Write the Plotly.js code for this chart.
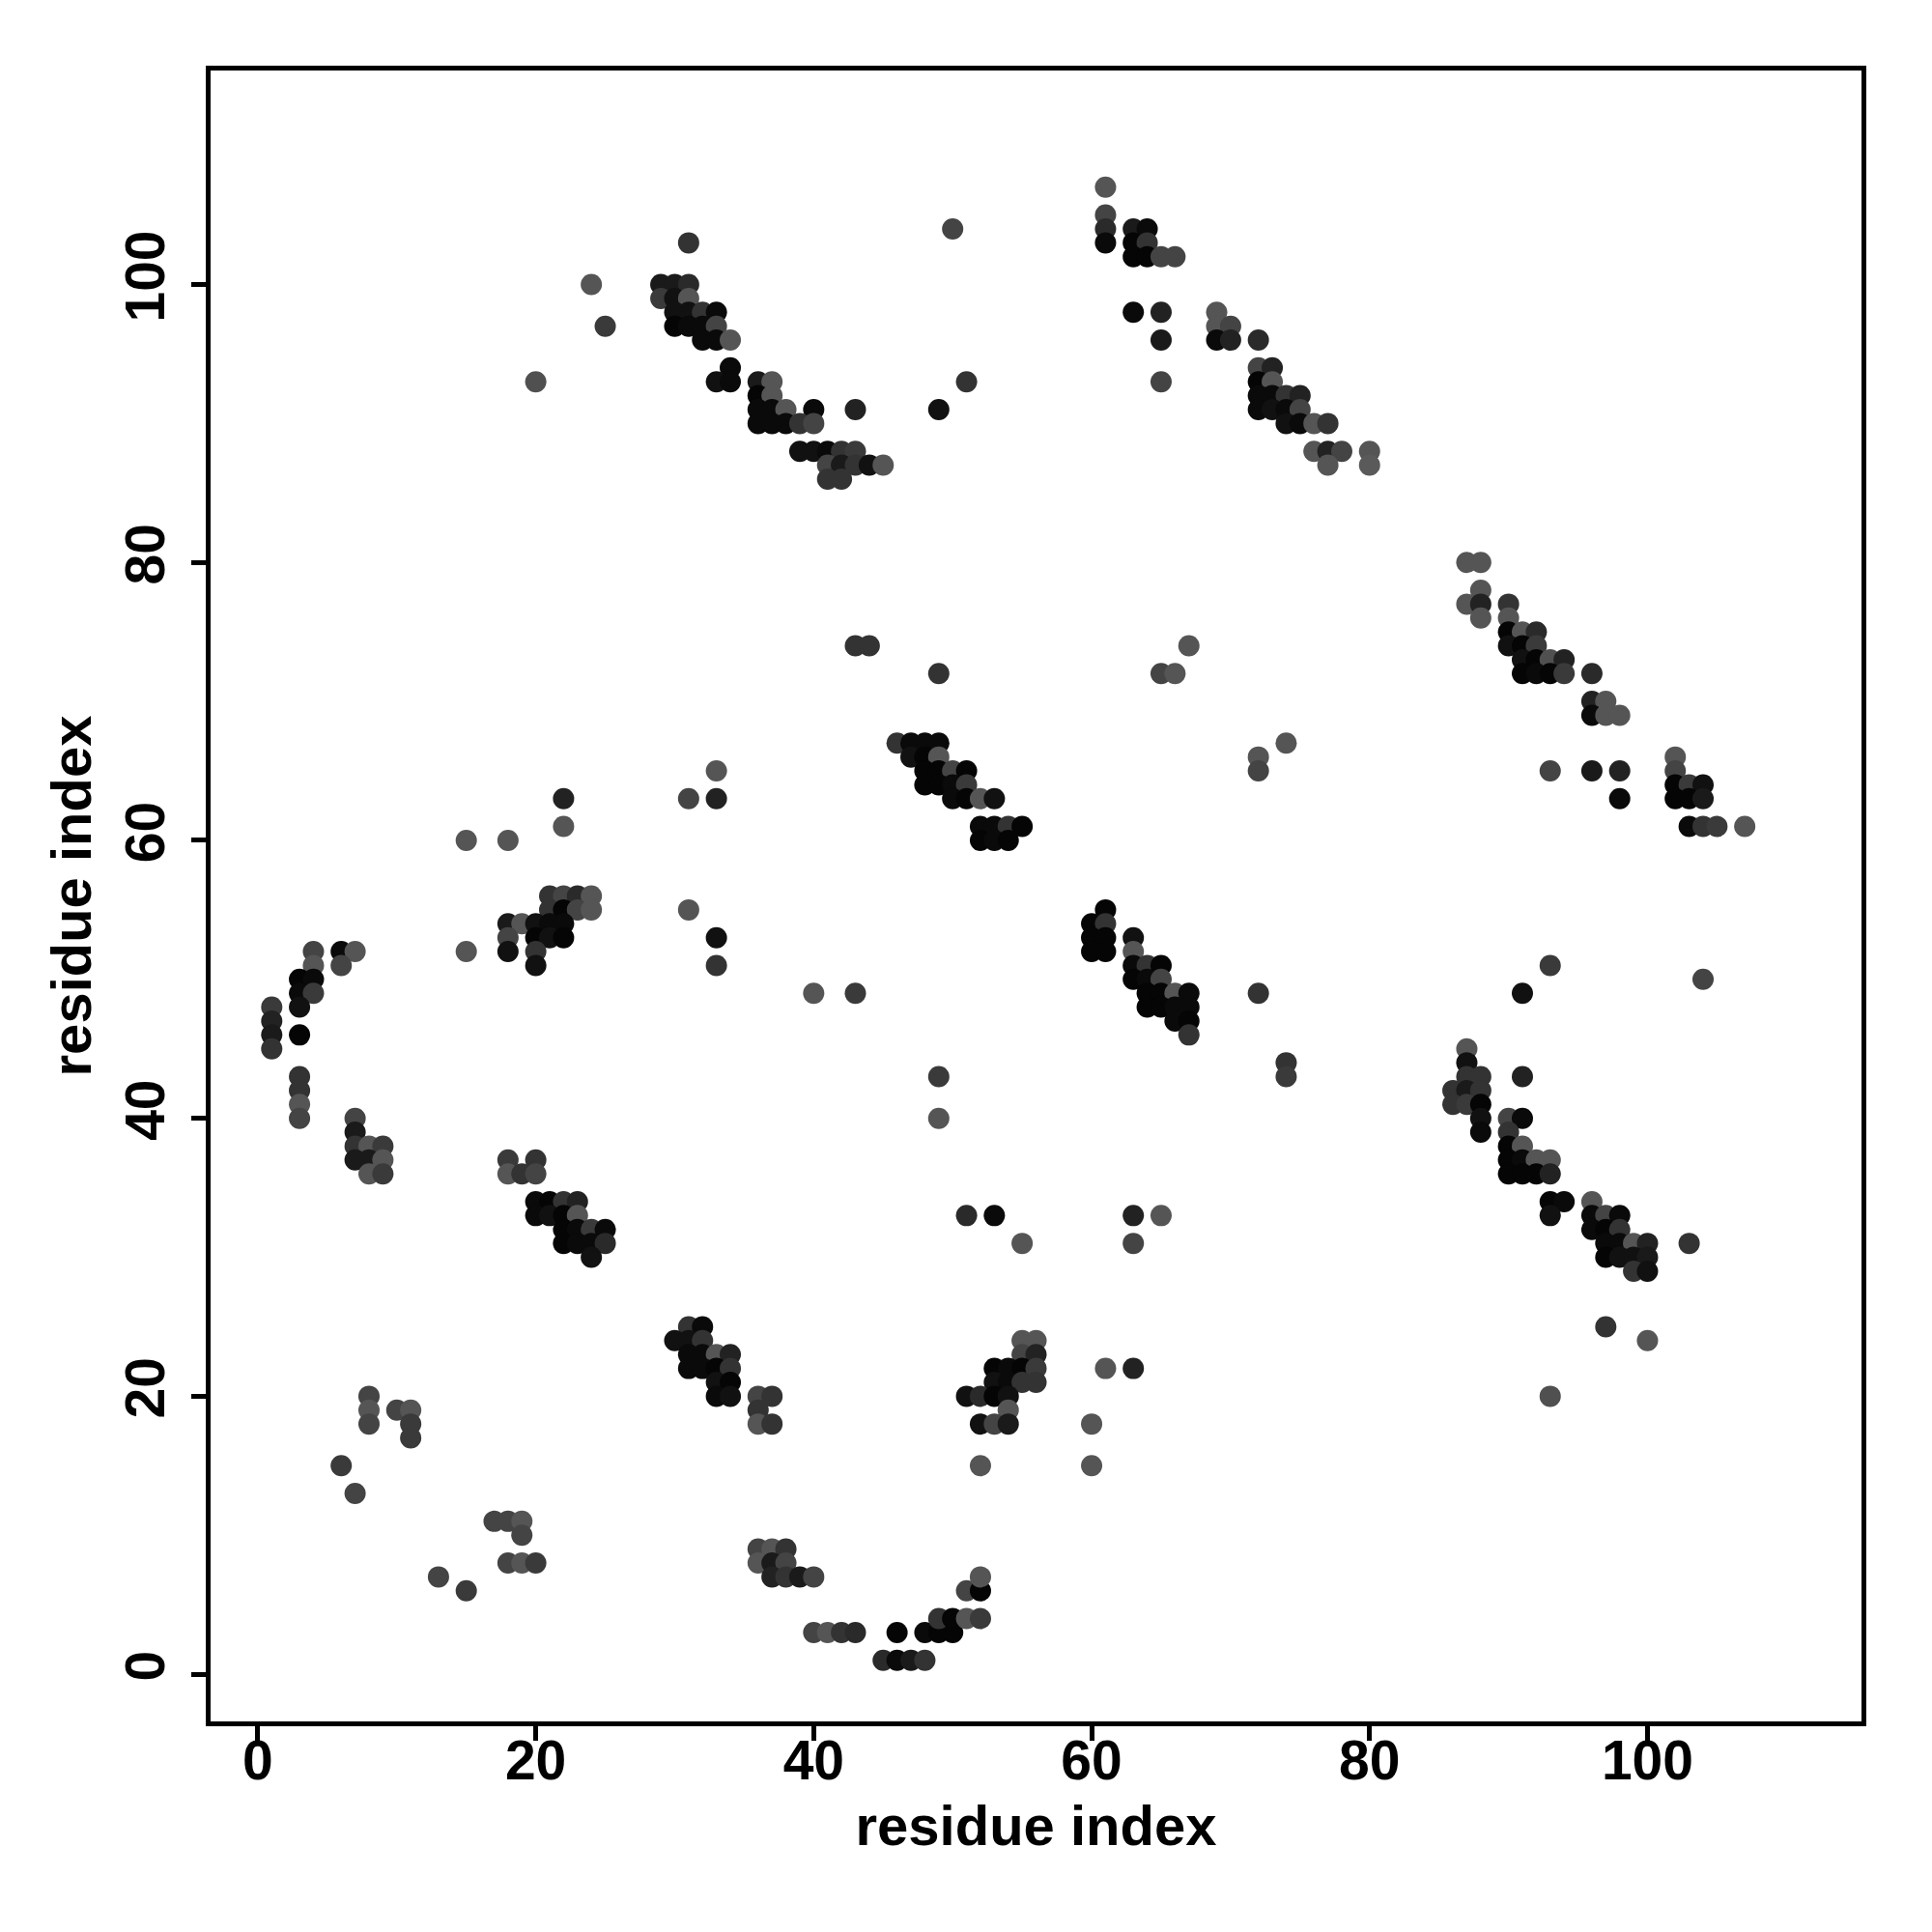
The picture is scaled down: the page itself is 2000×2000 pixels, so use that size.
<!DOCTYPE html>
<html>
<head>
<meta charset="utf-8">
<script src="https://cdn.plot.ly/plotly-3.0.1.min.js"></script>
<style>html,body{margin:0;padding:0;background:#fff;}#chart{width:2000px;height:2000px;}</style>
</head>
<body>
<div id="chart"></div>
<script>
// Contact map: residue i (x), residue j (y), grey level of each point (0 = black)
const residueI = [
31,24,25,20,29,30,31,29,30,31,30,31,32,33,30,31,32,33,32,33,34,34,33,34,36,37,36,37,36,37,38,40,36,37,38,39,40,43,49,51,39,40,41,42,43,41,42,43,44,45,41,42,
50,61,61,61,61,63,64,63,64,63,64,65,66,63,65,65,65,69,69,70,69,70,72,72,73,72,73,72,73,74,75,72,73,74,75,74,75,76,77,76,77,78,80,77,80,
87,88,88,87,88,90,88,90,90,91,92,90,91,92,91,92,93,94,91,92,93,94,96,96,97,96,97,98,74,72,72,93,96,98,98,102,102,102,103,104,102,103,104,103,104,105,107,
43,44,49,67,65,66,46,47,48,49,47,48,49,48,49,50,51,48,49,50,51,50,51,52,53,52,53,54,55,52,53,54,61,60,61,60,61,63,
33,22,31,33,22,15,18,21,22,23,24,21,22,23,24,31,18,19,20,21,22,18,20,21,22,33,
4,6,7,15,18,20,20,33,4,6,3,4,3,4,3,1,1,1,1,3,3,3,3,3,7,7,7,8,9,7,8,9,8,9,18,20,18,19,20,20,21,22,23,20,21,22,23,22,23,24,25,22,23,24,25,24,
31,32,30,31,32,31,32,33,34,31,32,33,34,33,34,33,34,36,37,36,36,37,8,8,8,10,11,11,11,6,7,17,18,19,19,18,19,20,13,15,
36,37,38,36,37,38,37,38,39,40,40,41,42,43,46,48,49,50,49,50,51,52,51,52,52,45,46,47,48,55,56,55,56,53,54,55,56,53,54,55,56,51,52,53,54,54,52,53,54,52,61,63,60,60,
97,100,93,
40,43,72,49,49,51,53,55,63,65,63,60,61,63,63,64,65,63,64,65,64,65,66,67,64,65,66,67,66,67,67,
93,91,104,74,74,87,87,87,88,86,87,88,86,87,88,88,88,91,90,91,90,90,91,90,91,92,93,90,91,92,93,93,94,93,96,96,97,98,96,97,98,97,98,99,100,97,98,99,100,99,100,103
];
const residueJ = [
103,100,97,93,100,100,100,99,99,99,98,98,98,98,97,97,97,97,96,96,96,94,93,93,93,93,92,92,91,91,91,91,90,90,90,90,90,91,91,93,88,88,88,88,88,87,87,87,87,87,86,86,
104,107,105,104,103,104,104,103,103,102,102,102,102,98,98,96,93,98,97,97,96,96,96,94,94,93,93,92,92,92,92,91,91,91,91,90,90,90,90,88,88,88,88,87,87,
80,80,78,77,77,77,76,76,75,75,75,74,74,74,73,73,73,73,72,72,72,72,72,70,70,69,69,69,67,66,65,65,65,65,63,66,65,64,64,64,63,63,63,61,61,61,61,
74,74,72,74,72,72,67,67,67,67,66,66,66,65,65,65,65,64,64,64,64,63,63,63,63,61,61,61,61,60,60,60,55,54,54,53,53,53,
65,63,63,63,61,60,60,56,56,56,56,55,55,55,55,55,54,54,54,54,54,53,53,53,53,53,
52,52,52,52,52,52,51,51,51,51,50,50,49,49,48,48,47,46,45,46,43,42,41,40,40,39,38,38,38,37,37,37,36,36,37,37,36,36,36,34,34,34,34,33,33,33,33,32,32,32,32,31,31,31,31,30,
25,25,24,24,24,23,23,23,23,22,22,22,22,21,21,20,20,20,20,19,18,18,20,19,18,19,19,18,17,15,13,11,11,11,10,8,8,8,7,6,
9,9,9,8,8,8,7,7,7,7,3,3,3,3,3,3,3,3,4,4,4,4,6,6,7,1,1,1,1,24,24,23,23,22,22,22,22,21,21,21,21,20,20,20,20,19,18,18,18,15,22,22,18,15,
25,24,20,
49,49,49,43,40,33,33,31,33,33,31,52,52,52,51,51,51,50,50,50,49,49,49,49,48,48,48,48,47,47,46,
51,49,50,44,43,45,44,43,43,42,42,42,41,41,41,40,39,43,40,40,39,38,38,37,37,37,37,36,36,36,36,34,34,33,34,33,33,33,32,32,32,31,31,31,31,30,30,30,30,29,29,31
];
const greyLevel = [
51,85,58,80,26,26,42,58,17,85,17,17,51,10,5,10,10,68,10,10,85,10,17,10,26,85,5,85,10,10,85,10,10,10,10,51,68,34,17,51,17,17,10,51,58,68,26,51,17,85,51,51,
68,85,68,42,10,26,10,5,51,5,5,68,68,10,34,26,68,85,85,68,10,34,42,68,34,5,85,10,10,51,34,10,17,10,68,17,10,85,51,85,34,68,85,85,90,
85,85,85,85,34,51,85,85,5,85,42,17,5,58,17,5,80,34,5,10,5,58,42,34,85,10,85,85,85,85,68,68,26,34,10,85,68,5,58,17,5,5,26,10,51,58,85,
51,51,51,85,68,85,51,10,10,10,17,5,85,5,5,68,5,5,5,10,58,10,5,85,17,10,10,51,5,5,10,5,5,5,51,5,5,17,
85,34,68,34,85,85,85,51,68,42,85,51,5,68,85,85,26,85,17,10,10,68,5,17,5,17,
68,10,85,85,17,51,17,51,85,68,5,10,10,58,17,58,34,26,51,5,51,51,85,68,68,26,51,85,58,26,26,85,85,58,58,51,85,51,68,10,5,51,34,10,17,5,85,5,10,58,10,5,10,10,42,17,
51,10,17,17,51,10,10,85,34,10,10,5,51,17,5,10,17,68,51,51,85,51,68,85,68,68,85,58,58,58,68,68,68,85,68,68,85,58,68,58,
68,85,51,85,26,68,34,51,26,68,68,85,51,42,5,10,5,5,51,5,85,58,68,5,85,42,10,26,51,85,85,68,34,5,10,5,58,17,10,51,51,17,42,5,17,85,17,68,26,85,85,34,85,85,
51,85,80,
85,58,51,58,85,42,10,85,34,85,68,5,5,85,10,51,5,5,10,68,5,5,85,10,5,5,10,10,10,5,51,
58,17,68,51,58,85,17,51,51,51,26,51,51,58,5,17,10,34,68,10,51,5,85,5,10,85,85,5,5,5,34,5,10,17,85,10,68,10,10,5,51,10,10,85,34,5,17,17,26,51,17,51
];
const xTicks = [0, 20, 40, 60, 80, 100];
const yTicks = [0, 20, 40, 60, 80, 100];
const axisTitle = 'residue index';

const colors = greyLevel.map(v => `rgb(${v},${v},${v})`);

const trace = {
  type: 'scatter',
  mode: 'markers',
  x: residueI,
  y: residueJ,
  marker: { size: 22, color: colors, line: { width: 0 } },
  hoverinfo: 'x+y'
};

const font = { family: 'Liberation Sans, Arial, Helvetica, sans-serif', color: '#000', weight: 'bold' };

const axisBase = {
  range: [-3.4, 115.4],
  showgrid: false,
  zeroline: false,
  showline: true,
  mirror: true,
  linecolor: '#000',
  linewidth: 5,
  ticks: 'outside',
  ticklen: 15,
  tickwidth: 5,
  tickcolor: '#000',
  tickfont: Object.assign({ size: 57 }, font)
};

const layout = {
  width: 2000,
  height: 2000,
  margin: { l: 218, r: 73, t: 73, b: 218 },
  paper_bgcolor: '#fff',
  plot_bgcolor: '#fff',
  showlegend: false,
  xaxis: Object.assign({}, axisBase, {
    tickmode: 'array', tickvals: xTicks, ticktext: xTicks.map(String),
    ticklabelstandoff: -28,
    title: { text: axisTitle, font: Object.assign({ size: 58 }, font), standoff: 18 }
  }),
  yaxis: Object.assign({}, axisBase, {
    tickmode: 'array', tickvals: yTicks, ticktext: yTicks.map(String),
    tickangle: -90,
    ticklabelstandoff: 5,
    title: { text: axisTitle, font: Object.assign({ size: 58 }, font), standoff: 6 }
  })
};

Plotly.newPlot('chart', [trace], layout, { staticPlot: true, displayModeBar: false });
</script>
</body>
</html>
